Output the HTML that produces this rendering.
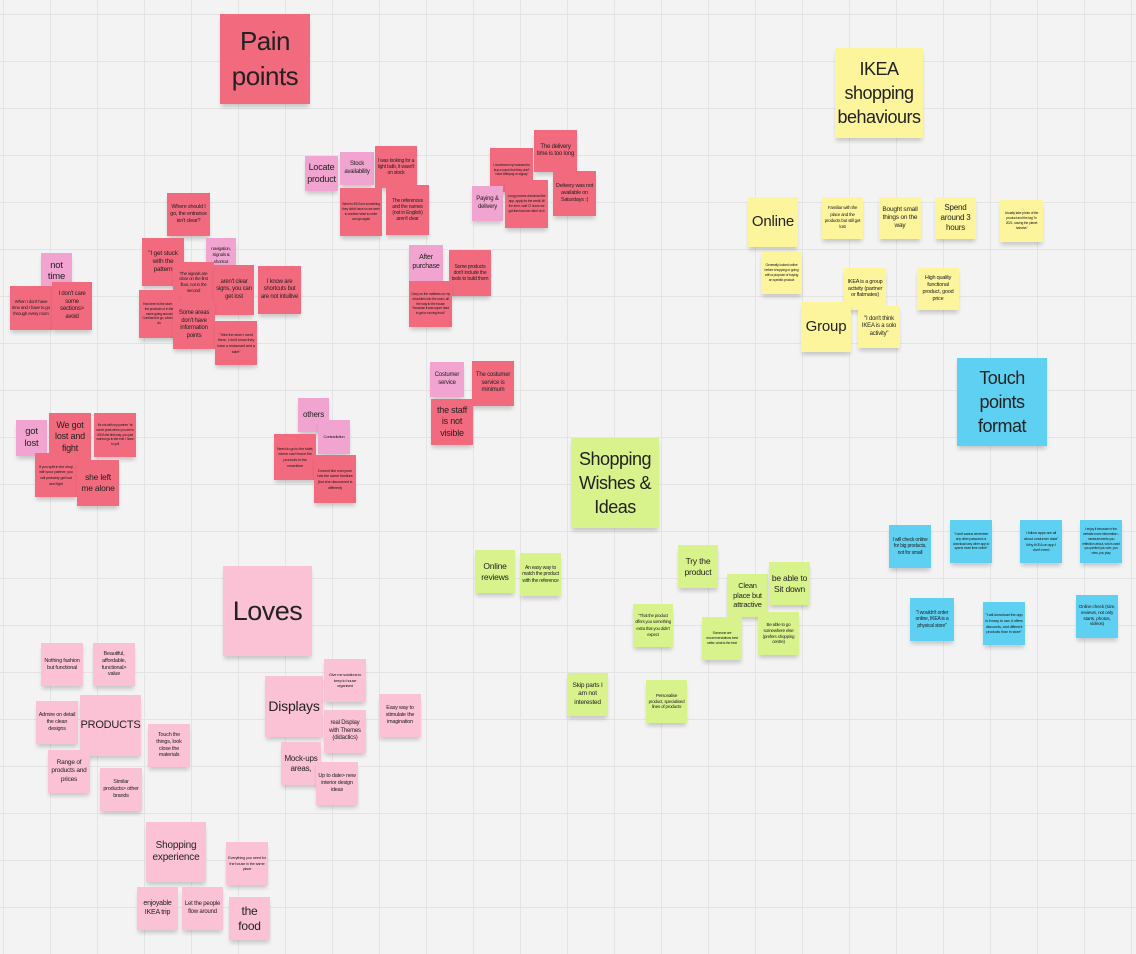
<!DOCTYPE html>
<html><head><meta charset="utf-8"><style>
html,body{margin:0;padding:0}
body{width:1136px;height:954px;overflow:hidden;position:relative;background-color:#f3f3f3;
background-image:linear-gradient(#e4e4e4 1px,transparent 1px),linear-gradient(90deg,#e4e4e4 1px,transparent 1px);
background-size:47px 47px;background-position:3px 14px;font-family:"Liberation Sans",sans-serif;color:#222}
.n{position:absolute;display:flex;align-items:center;justify-content:center;text-align:center;box-sizing:border-box;padding:2px;line-height:1.25;box-shadow:0 4px 4px -1px rgba(0,0,0,0.18);overflow:hidden;font-size:6px;letter-spacing:-0.2px}
.r{background:#f26a7e}.p{background:#f0a4cf}.l{background:#fbc2d5}.y{background:#fdf59c}.g{background:#d8f28c}.b{background:#5ed0f2}
.t{font-size:24px;line-height:1.35;letter-spacing:-0.5px}
.m{font-size:14px;line-height:1.2}
.s{font-size:8px;line-height:1.3}
.x{font-size:3.5px;line-height:1.4}
</style></head><body>

<!-- Pain points -->
<div class="n r t" style="left:220px;top:14px;width:90px;height:90px;font-size:26px">Pain<br>points</div>
<div class="n p s" style="left:305px;top:156px;width:33px;height:35px;font-size:9px">Locate product</div>
<div class="n p" style="left:340px;top:152px;width:34px;height:33px">Stock availability</div>
<div class="n r" style="left:375px;top:146px;width:42px;height:42px;font-size:5px">I was looking for a light bulb, it wasn't on stock</div>
<div class="n r x" style="left:340px;top:188px;width:42px;height:48px">Went to IKEA for something they didn't have so we went to another store to order and go again</div>
<div class="n r" style="left:386px;top:185px;width:43px;height:50px;font-size:5px">The references and the names (not in English) aren't clear</div>
<div class="n r x" style="left:490px;top:148px;width:43px;height:44px">I convinced my husband to buy a couch but they don't have Afterpay or zippay</div>
<div class="n r" style="left:534px;top:130px;width:43px;height:42px;font-size:6px">The delivery time is too long</div>
<div class="n p" style="left:472px;top:186px;width:31px;height:35px;font-size:6px">Paying &amp; delivery</div>
<div class="n r x" style="left:505px;top:180px;width:43px;height:48px">Long process download the app, apply for the credit, fill the form, wait 72 hours we got tired and we didn't do it</div>
<div class="n r" style="left:553px;top:171px;width:43px;height:45px;font-size:5.5px">Delivery was not available on Saturdays :(</div>
<div class="n r" style="left:167px;top:193px;width:43px;height:43px;font-size:5.5px">Where should I go, the entrance isn't clear?</div>
<div class="n r" style="left:142px;top:238px;width:42px;height:48px;font-size:6.5px">"I get stuck with the pattern</div>
<div class="n p x" style="left:206px;top:238px;width:30px;height:35px;font-size:4.5px">navigation, Signals &amp; shortcut</div>
<div class="n r" style="left:173px;top:262px;width:41px;height:40px;font-size:4.5px">The signals are clear on the first floor, not in the second</div>
<div class="n r" style="left:214px;top:265px;width:40px;height:50px;font-size:6px">aren't clear signs, you can get lost</div>
<div class="n r" style="left:258px;top:266px;width:43px;height:48px;font-size:6px">I know are shortcuts but are not intuitive</div>
<div class="n r x" style="left:139px;top:290px;width:40px;height:48px">Has been to the store in the products or in the maze going around Confused to go, when to do</div>
<div class="n r" style="left:173px;top:301px;width:42px;height:48px;font-size:6px">Some areas don't have information points</div>
<div class="n r x" style="left:215px;top:321px;width:42px;height:44px;font-size:4px">"I like the store I went there, I don't know they have a restaurant and a toilet"</div>
<div class="n p m" style="left:41px;top:253px;width:31px;height:36px;font-size:9.5px">not time</div>
<div class="n r x" style="left:10px;top:286px;width:42px;height:44px;font-size:4.5px">When I don't have time and I have to go through every room</div>
<div class="n r" style="left:52px;top:282px;width:40px;height:48px;font-size:6px">I don't care some sections&gt; avoid</div>
<div class="n p" style="left:16px;top:420px;width:31px;height:36px;font-size:9.5px">got lost</div>
<div class="n r" style="left:49px;top:413px;width:42px;height:48px;font-size:9px">We got lost and fight</div>
<div class="n r x" style="left:94px;top:413px;width:42px;height:44px">It's not with my partner "at some point when you are in IKEA the first way, you just wanna go to the exit, I have to yell</div>
<div class="n r x" style="left:35px;top:453px;width:42px;height:44px;font-size:4px">If you split in the shop with your partner, you will probably get lost and fight</div>
<div class="n r" style="left:77px;top:460px;width:42px;height:46px;font-size:8.5px">she left me alone</div>
<div class="n p" style="left:298px;top:398px;width:31px;height:34px;font-size:8px">others</div>
<div class="n p x" style="left:318px;top:420px;width:32px;height:34px;font-size:4px">Contradiction</div>
<div class="n r x" style="left:274px;top:434px;width:42px;height:46px;font-size:4px">Need to go to the toilet, where can't leave the products in the meantime</div>
<div class="n r x" style="left:314px;top:455px;width:42px;height:48px;font-size:4px">Doesn't like everyone has the same furniture (but she discovered is different)</div>
<div class="n p" style="left:409px;top:245px;width:34px;height:36px;font-size:7px">After purchase</div>
<div class="n r" style="left:449px;top:250px;width:42px;height:46px;font-size:5px">Some products don't include the tools to build them</div>
<div class="n r x" style="left:409px;top:281px;width:43px;height:46px">Carry on the mattress on my shoulders into the room, all the way to the house "because it was super hard to get a moving truck"</div>
<div class="n p" style="left:430px;top:362px;width:34px;height:35px;font-size:6px">Costumer service</div>
<div class="n r" style="left:472px;top:361px;width:42px;height:45px;font-size:6px">The costumer service is minimum</div>
<div class="n r" style="left:431px;top:399px;width:42px;height:46px;font-size:9px">the staff is not visible</div>

<!-- IKEA behaviours -->
<div class="n y t" style="left:835px;top:48px;width:88px;height:90px;font-size:18px;line-height:1.35">IKEA<br>shopping<br>behaviours</div>
<div class="n y m" style="left:748px;top:197px;width:50px;height:50px;font-size:15px">Online</div>
<div class="n y x" style="left:822px;top:197px;width:41px;height:42px;font-size:4.5px">Familiar with the place and the products but still get lost</div>
<div class="n y" style="left:879px;top:197px;width:42px;height:42px;font-size:6.5px">Bought small things on the way</div>
<div class="n y" style="left:935px;top:197px;width:41px;height:42px;font-size:8px">Spend around 3 hours</div>
<div class="n y x" style="left:1000px;top:200px;width:43px;height:42px">Usually take photo of the product and the tag "in 2021, saving the planet hahaha"</div>
<div class="n y x" style="left:761px;top:252px;width:41px;height:42px">Generally looked online before shopping or going with a purpose of buying an specific product</div>
<div class="n y" style="left:844px;top:268px;width:42px;height:42px;font-size:5.5px">IKEA is a group activity (partner or flatmates)</div>
<div class="n y" style="left:917px;top:268px;width:42px;height:42px;font-size:5.5px">High quality functional product, good price</div>
<div class="n y m" style="left:801px;top:302px;width:50px;height:50px;font-size:15px">Group</div>
<div class="n y" style="left:858px;top:306px;width:42px;height:42px;font-size:6px">"I don't think IKEA is a solo activity"</div>

<!-- Touch points -->
<div class="n b t" style="left:957px;top:358px;width:90px;height:88px;font-size:18px;line-height:1.35">Touch<br>points<br>format</div>
<div class="n b" style="left:889px;top:525px;width:42px;height:43px;font-size:5px">I will check online for big products, not for small</div>
<div class="n b x" style="left:950px;top:520px;width:42px;height:43px">"I don't wanna remember any other password or download any other app to spend more time online"</div>
<div class="n b x" style="left:1020px;top:520px;width:42px;height:43px;font-size:4px">I follow apps are all about costumer data" Why IKEA on app I don't need</div>
<div class="n b x" style="left:1080px;top:520px;width:42px;height:43px">I enjoy it because in the website more information - measurements you reflection about, who's want you perfect you see, you view, you play</div>
<div class="n b" style="left:910px;top:598px;width:44px;height:43px;font-size:5px">"I wouldn't order online, IKEA is a physical store"</div>
<div class="n b x" style="left:983px;top:602px;width:42px;height:43px;font-size:4px">"I will download the app is it easy to use, it offers discounts, and different products than in store"</div>
<div class="n b" style="left:1076px;top:595px;width:42px;height:43px;font-size:4.8px">Online check (size, reviews, not only starts, photos, videos)</div>

<!-- Wishes -->
<div class="n g t" style="left:571px;top:438px;width:88px;height:90px;font-size:18px;line-height:1.35">Shopping<br>Wishes &amp;<br>Ideas</div>
<div class="n g" style="left:475px;top:550px;width:40px;height:43px;font-size:8.5px">Online reviews</div>
<div class="n g" style="left:520px;top:553px;width:41px;height:43px;font-size:5px">An easy way to match the product with the reference</div>
<div class="n g" style="left:678px;top:545px;width:40px;height:43px;font-size:8.5px">Try the product</div>
<div class="n g" style="left:727px;top:574px;width:41px;height:43px;font-size:7.5px">Clean place but attractive</div>
<div class="n g" style="left:769px;top:562px;width:41px;height:43px;font-size:8.5px">be able to Sit down</div>
<div class="n g x" style="left:633px;top:604px;width:40px;height:43px;font-size:4.3px">"That the product offers you something extra that you didn't expect</div>
<div class="n g x" style="left:702px;top:617px;width:40px;height:43px">Someone are recommendations best seller, what is the best</div>
<div class="n g" style="left:758px;top:612px;width:41px;height:43px;font-size:4.5px">Be able to go somewhere else (prefers shopping centre)</div>
<div class="n g" style="left:567px;top:673px;width:41px;height:43px;font-size:6.5px">Skip parts I am not interested</div>
<div class="n g" style="left:646px;top:680px;width:41px;height:43px;font-size:4.5px">Personalise product, specialised lines of products</div>

<!-- Loves -->
<div class="n l t" style="left:223px;top:566px;width:89px;height:90px;font-size:27px">Loves</div>
<div class="n l" style="left:41px;top:643px;width:42px;height:43px;font-size:5.5px">Nothing fashion but functional</div>
<div class="n l" style="left:93px;top:643px;width:42px;height:43px;font-size:5.5px">Beautiful, affordable, functional&gt; value</div>
<div class="n l" style="left:36px;top:701px;width:42px;height:43px;font-size:5.5px">Admire on detail the clean designs</div>
<div class="n l" style="left:80px;top:695px;width:61px;height:61px;font-size:11px">PRODUCTS</div>
<div class="n l" style="left:148px;top:724px;width:42px;height:43px;font-size:5.5px">Touch the things, look close the materials</div>
<div class="n l" style="left:48px;top:750px;width:42px;height:43px;font-size:6.5px">Range of products and prices</div>
<div class="n l" style="left:100px;top:768px;width:42px;height:43px;font-size:5.5px">Similar products&gt; other brands</div>
<div class="n l m" style="left:265px;top:676px;width:58px;height:61px;font-size:14px">Displays</div>
<div class="n l x" style="left:324px;top:659px;width:42px;height:43px;font-size:4px">Give me solutions to keep to house organised</div>
<div class="n l" style="left:379px;top:694px;width:42px;height:43px;font-size:5.5px">Easy way to stimulate the imagination</div>
<div class="n l" style="left:324px;top:710px;width:42px;height:43px;font-size:6px">real Display with Themes (didactics)</div>
<div class="n l" style="left:281px;top:742px;width:40px;height:43px;font-size:8px">Mock-ups areas,</div>
<div class="n l" style="left:316px;top:762px;width:42px;height:43px;font-size:5.5px">Up to date&gt; new interior design ideas</div>
<div class="n l" style="left:146px;top:822px;width:60px;height:60px;font-size:10px">Shopping experience</div>
<div class="n l x" style="left:226px;top:842px;width:42px;height:43px;font-size:4px">Everything you need for the house in the same place</div>
<div class="n l" style="left:137px;top:887px;width:41px;height:43px;font-size:7px">enjoyable IKEA trip</div>
<div class="n l" style="left:182px;top:887px;width:41px;height:43px;font-size:6px">Let the people flow around</div>
<div class="n l" style="left:229px;top:897px;width:41px;height:43px;font-size:12px">the food</div>

</body></html>
